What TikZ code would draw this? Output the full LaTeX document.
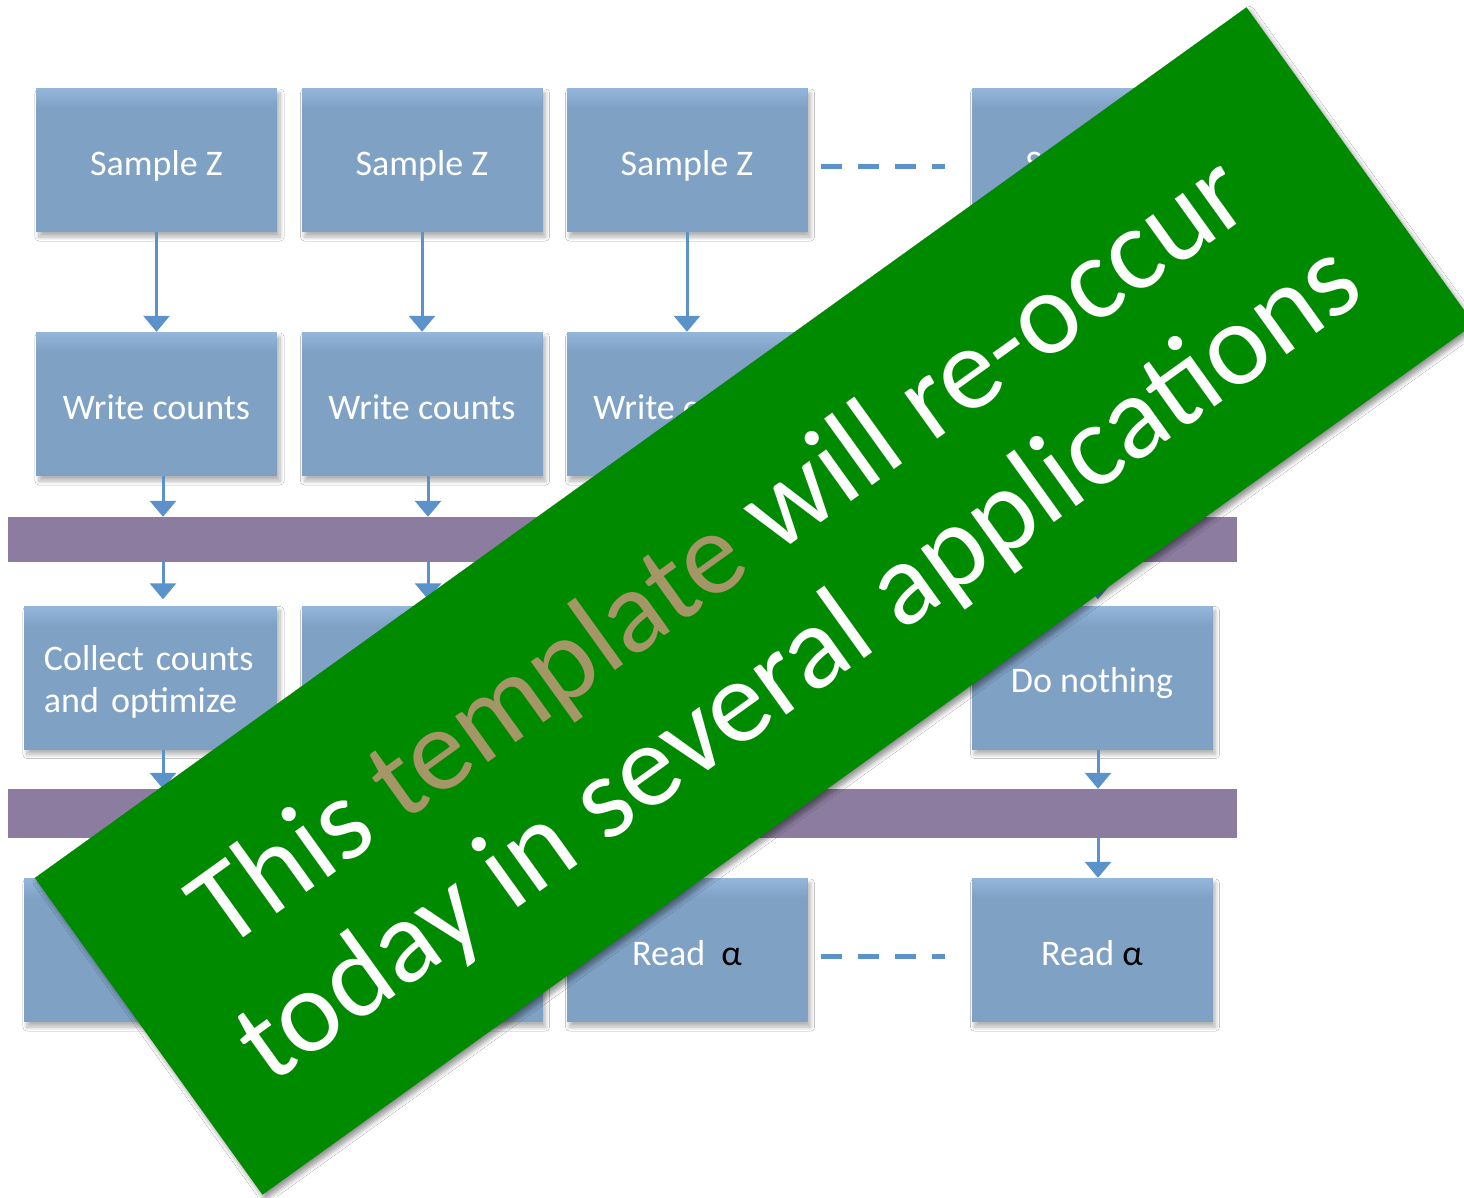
\documentclass[tikz,border=0pt]{standalone}
\usepackage{fontspec}
\setmainfont{Carlito}
\usetikzlibrary{arrows.meta,shadows.blur}

\definecolor{boxblue}{RGB}{126,161,196}
\definecolor{boxtop}{RGB}{149,182,219}
\definecolor{barpurple}{RGB}{140,125,160}
\definecolor{flowblue}{RGB}{91,146,201}
\definecolor{bannergreen}{RGB}{0,138,0}
\definecolor{tmplcolor}{RGB}{164,150,103}

\tikzset{
  % soft highlight along the upper edge of a step box, built from thin strips
  topglow/.style={path picture={
    \foreach \k [evaluate=\k as \p using int(100-5*\k)] in {0,...,19}{
      \fill[boxtop!\p!boxblue]
        ([yshift={-\k*1bp}]path picture bounding box.north west) rectangle
        ([yshift={-(\k+1.3)*1bp}]path picture bounding box.north east);
    }}},
  stepbox/.style={rectangle, fill=boxblue, minimum width=241bp, minimum height=144bp,
    inner sep=0pt, text=white, font=\fontsize{36bp}{44bp}\selectfont,
    text height=30bp, text depth=0pt,
    blur shadow={shadow xshift=3bp, shadow yshift=-5bp, shadow blur steps=8,
      shadow blur radius=4bp, shadow opacity=30},
    topglow},
  widebox/.style={stepbox, minimum width=253bp},
  syncbar/.style={rectangle, fill=barpurple, minimum width=1229bp, inner sep=0pt},
  flow/.style={draw=flowblue, line width=3bp, -{Triangle[width=26bp,length=16bp]}},
  gapline/.style={draw=flowblue, line width=5bp, dash pattern=on 21bp off 16bp},
  banner/.style={rectangle, fill=bannergreen, minimum width=1492bp, minimum height=390bp,
    inner sep=0pt, rotate=35.7,
    blur shadow={shadow xshift=3bp, shadow yshift=-4bp, shadow blur steps=8,
      shadow blur radius=5bp, shadow opacity=45}},
  bannertext/.style={anchor=base, inner sep=0pt, text=white,
    font=\fontsize{118bp}{136bp}\selectfont}
}

\begin{document}
\begin{tikzpicture}[x=1bp,y=-1bp]
  \useasboundingbox[fill=white] (0,0) rectangle (1464,1197);

  % arrow columns (slightly right of the box centres)
  \coordinate (ax1) at (163,0);
  \coordinate (ax2) at (428,0);
  \coordinate (ax3) at (693,0);
  \coordinate (ax4) at (1098,0);

  % row 1: sampling
  \node[stepbox] (s1) at (156.5,160) {Sample Z};
  \node[stepbox] (s2) at (422,160) {Sample Z};
  \node[stepbox] (s3) at (687,160) {Sample Z};
  \node[stepbox] (s4) at (1092,160) {Sample Z};

  % row 2: writing counts
  \node[stepbox] (w1) at (156.5,404) {Write counts};
  \node[stepbox] (w2) at (422,404) {Write counts};
  \node[stepbox] (w3) at (687,404) {Write counts};
  \node[stepbox] (w4) at (1092,404) {};

  % synchronisation barriers
  \node[syncbar, minimum height=45bp] (bar1) at (622.5,539.5) {};
  \node[syncbar, minimum height=49bp] (bar2) at (622.5,813.5) {};

  % row 3: optimisation
  \node[widebox, align=left, text width=213bp, text height=30bp, text depth=45bp,
        font=\fontsize{36bp}{42bp}\selectfont] (c1) at (150.5,677.5)
        {Collect counts\\and optimize};
  \node[stepbox] (c2) at (422,677.5) {};
  \node[stepbox] (c3) at (687,677.5) {};
  \node[stepbox] (c4) at (1092,677.5) {Do nothing};

  % row 4: reading the parameters
  \node[widebox] (r1) at (150.5,950) {};
  \node[stepbox] (r2) at (422,950) {};
  \node[stepbox] (r3) at (687,950) {Read\ \ \textcolor{black}{α}};
  \node[stepbox] (r4) at (1092,950) {Read \textcolor{black}{α}};

  % row 1 -> row 2
  \draw[flow] (s1) -- (w1);
  \draw[flow] (s2) -- (w2);
  \draw[flow] (s3) -- (w3);
  \draw[flow] (s4) -- (w4);

  % row 2 -> barrier 1 -> row 3 -> barrier 2 -> row 4
  \foreach \i in {1,2,3,4}{
    \draw[flow] (w\i.south -| ax\i) -- (bar1.north -| ax\i);
    \draw[flow, shorten >=6bp] (bar1.south -| ax\i) -- (c\i.north -| ax\i);
    \draw[flow] (c\i.south -| ax\i) -- (bar2.north -| ax\i);
    \draw[flow] (bar2.south -| ax\i) -- (r\i.north -| ax\i);
  }

  % elided workers
  \draw[gapline, shorten <=13bp, shorten >=26bp] ([yshift=-6bp]s3.east) -- ([yshift=-6bp]s4.west);
  \draw[gapline, shorten <=13bp, shorten >=26bp] ([yshift=-6bp]r3.east) -- ([yshift=-6bp]r4.west);

  % overlay note
  \node[banner] (note) at (754.5,601) {};
  \begin{scope}[shift={(note.center)}, rotate=35.7, transform shape]
    \node[bannertext] (noteA) at (0,-24.5)
      {This \textcolor{tmplcolor}{template} will re-occur};
    \node[bannertext] (noteB) at (0,111)
      {today in several applications};
  \end{scope}
\end{tikzpicture}
\end{document}
